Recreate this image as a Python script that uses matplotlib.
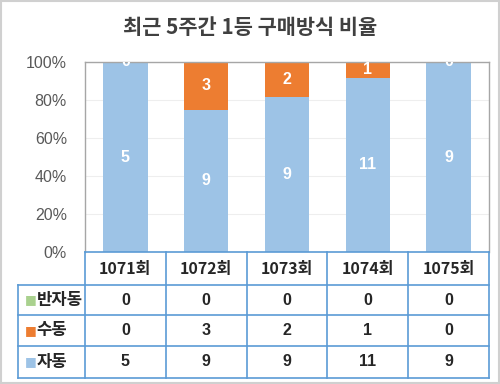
import matplotlib

matplotlib.use("Agg")
import matplotlib.pyplot as plt
import numpy as np
from matplotlib.patches import Rectangle

plt.rcParams["font.family"] = ["Noto Sans CJK KR", "DejaVu Sans"]

TITLE = "최근 5주간 1등 구매방식 비율"
ROUNDS = ["1071회", "1072회", "1073회", "1074회", "1075회"]
SERIES_NAMES = ["반자동", "수동", "자동"]
SEMI = [0, 0, 0, 0, 0]
MANUAL = [0, 3, 2, 1, 0]
AUTO = [5, 9, 9, 11, 9]

BLUE = "#9dc3e6"
ORANGE = "#ed7d31"
GREEN = "#a9d18e"
LINE = "#5b9bd5"
INK = "#262626"
TICK = "#595959"

W, H = 500, 384
fig = plt.figure(figsize=(W / 100, H / 100), dpi=100)


def px_axes(x0, y0, x1, y1):
    return fig.add_axes([x0 / W, 1 - y1 / H, (x1 - x0) / W, (y1 - y0) / H])


# outer frame
fig.patches.append(Rectangle((0.002, 0.003), 0.996, 0.994, transform=fig.transFigure,
                             fill=False, edgecolor="#d0d0d0", linewidth=1.5))

fig.text(0.5, 1 - 27 / H, TITLE, ha="center", va="center", fontsize=15,
         fontweight="bold", color="#404040")

# ---- stacked 100% bars
ax = px_axes(85, 62, 489, 252)
auto = np.array(AUTO, float)
manual = np.array(MANUAL, float)
semi = np.array(SEMI, float)
total = auto + manual + semi
x = np.arange(len(ROUNDS))
stack = [(auto, BLUE), (manual, ORANGE), (semi, GREEN)]
bottom = np.zeros(len(x))
for vals, col in stack:
    share = vals / total * 100
    ax.bar(x, share, 0.55, bottom=bottom, color=col, zorder=2)
    for xi, b, s, v in zip(x, bottom, share, vals):
        if col == GREEN:
            continue
        ax.text(xi, b + s / 2, f"{int(v)}", ha="center", va="center", color="white",
                fontsize=11.5, fontweight="bold", clip_on=True, zorder=3,
                family=["Liberation Sans", "DejaVu Sans"])
    bottom = bottom + share

ax.set_xlim(-0.5, len(x) - 0.5)
ax.set_ylim(0, 100)
ax.set_yticks(range(0, 101, 20))
ax.set_yticklabels([f"{v}%" for v in range(0, 101, 20)], fontsize=11.5, color=TICK,
                   family=["Liberation Sans", "DejaVu Sans"])
ax.tick_params(axis="y", length=0, pad=13)
ax.set_xticks([])
ax.grid(axis="y", color="#eeeeee", linewidth=0.8, zorder=0)
for side in ["left", "top", "right"]:
    ax.spines[side].set_color("#a6a6a6")
    ax.spines[side].set_linewidth(1.0)
ax.spines["bottom"].set_visible(False)

# ---- data table
tx = px_axes(18, 252, 489, 378)
unit = (489 - 85) / len(x)
left = -0.5 - (85 - 18) / unit
tx.set_xlim(left, len(x) - 0.5)
tx.set_ylim(4, 0)
tx.axis("off")
kw = dict(color=LINE, linewidth=1.2, clip_on=False)
row_edges = [0, 1.05, 2.0, 2.97, 4.0]
# horizontal lines
tx.plot([-0.5, len(x) - 0.5], [row_edges[0]] * 2, **kw)
for r in row_edges[1:]:
    tx.plot([left, len(x) - 0.5], [r, r], **kw)
# vertical lines
tx.plot([left, left], [row_edges[1], row_edges[-1]], **kw)
for c in np.arange(len(x) + 1) - 0.5:
    tx.plot([c, c], [row_edges[0], row_edges[-1]], **kw)

mid = lambda i: (row_edges[i] + row_edges[i + 1]) / 2
num_font = ["Liberation Sans", "Noto Sans CJK KR"]
for xi, lab in zip(x, ROUNDS):
    tx.text(xi, mid(0), lab, ha="center", va="center", fontsize=11.5,
            fontweight="bold", color=INK)
rows = [(SERIES_NAMES[0], SEMI, GREEN), (SERIES_NAMES[1], MANUAL, ORANGE),
        (SERIES_NAMES[2], AUTO, BLUE)]
for i, (name, vals, col) in enumerate(rows, start=1):
    tx.text(left + 0.08, mid(i), "■", ha="left", va="center", fontsize=9,
            color=col, family=["DejaVu Sans"])
    tx.text(left + 0.23, mid(i), name, ha="left", va="center", fontsize=12,
            fontweight="bold", color=INK)
    for xi, v in zip(x, vals):
        tx.text(xi, mid(i), str(v), ha="center", va="center", fontsize=11.5,
                fontweight="bold", color=INK, family=num_font)

fig.savefig("out.png", dpi=100)
